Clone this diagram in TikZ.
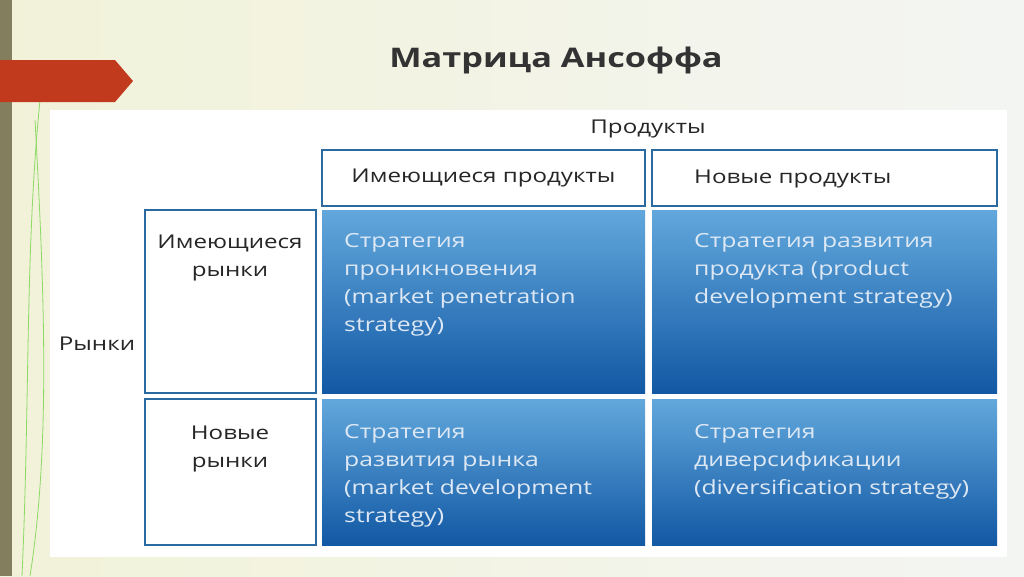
\documentclass[tikz,border=0pt]{standalone}
\usepackage{fontspec}
\setmainfont[FakeStretch=1.27]{Open Sans}
\usetikzlibrary{positioning}
\definecolor{bord}{HTML}{2A6AA0}
\definecolor{celltop}{HTML}{62A8DC}
\definecolor{cellbot}{HTML}{1258A4}
\definecolor{ctext}{HTML}{DDE8F4}
\definecolor{bann}{HTML}{C23A1E}
\tikzset{
 hdr/.style={draw=bord,line width=2pt,fill=white,minimum height=56pt,inner sep=0pt,font=\fontsize{19}{22}\selectfont,text=black!85},
 rowb/.style={draw=bord,line width=2pt,fill=white,inner sep=0pt},
 rowt/.style={font=\fontsize{19}{28}\selectfont,text=black!85,align=center},
 cell/.style={top color=celltop,bottom color=cellbot,draw=none,inner sep=0pt},
 ctxt/.style={anchor=north west,align=left,text=ctext,font=\fontsize{19.5}{28}\selectfont,inner sep=0pt}
}
\begin{document}
\begin{tikzpicture}[x=1pt,y=-1pt]
\useasboundingbox (0,0) rectangle (1024,576);
\fill[left color=white!90!olive, right color=white!95!green!60!gray!20] (0,0) rectangle (1024,576);
\fill[black!60!olive!70] (0,0) rectangle (12,576);
\draw[green!50!olive!60,line width=0.8pt] (22,576) .. controls (30,400) and (25,250) .. (40,100);
\draw[green!50!olive!60,line width=0.8pt] (30,576) .. controls (50,450) and (45,300) .. (35,120);
\fill[bann] (0,60) -- (115,60) -- (133,81) -- (115,102) -- (0,102) -- cycle;
\node[font=\bfseries\fontsize{27}{30}\selectfont,text=black!80] (title) at (556,60) {Матрица Ансоффа};
\fill[white] (50,110) rectangle (1007,557);
\node[font=\fontsize{19}{22}\selectfont,text=black!85] (prod) at (648,129) {Продукты};
\node[font=\fontsize{19}{22}\selectfont,text=black!85] (mark) at (97,344) {Рынки};
\node[hdr,minimum width=323pt] (h1) at (483.5,178) {Имеющиеся продукты};
\node[hdr,minimum width=345pt] (h2) at (824.5,178) {};
\node[anchor=west,font=\fontsize{19}{22}\selectfont,text=black!85,inner sep=0pt] (h2t) at (694,179) {Новые продукты};
\node[rowb,minimum width=171pt,minimum height=183pt] (r1) at (230.5,301.5) {};
\node[rowb,minimum width=171pt,minimum height=146pt] (r2) at (230.5,472) {};
\node[rowt] (r1t) at (230,258) {Имеющиеся\\рынки};
\node[rowt] (r2t) at (230,449) {Новые\\рынки};
\node[cell,minimum width=323pt,minimum height=183pt] (c11) at (483.5,301.5) {};
\node[cell,minimum width=345pt,minimum height=183pt] (c12) at (824.5,301.5) {};
\node[cell,minimum width=323pt,minimum height=146pt] (c21) at (483.5,472) {};
\node[cell,minimum width=345pt,minimum height=146pt] (c22) at (824.5,472) {};
\node[ctxt] (t11) at (344,233) {Стратегия\\проникновения\\(market penetration\\strategy)};
\node[ctxt] (t12) at (694,233) {Стратегия развития\\продукта (product\\development strategy)};
\node[ctxt] (t21) at (344,424) {Стратегия\\развития рынка\\(market development\\strategy)};
\node[ctxt] (t22) at (694,424) {Стратегия\\диверсификации\\(diversification strategy)};
\end{tikzpicture}
\end{document}
